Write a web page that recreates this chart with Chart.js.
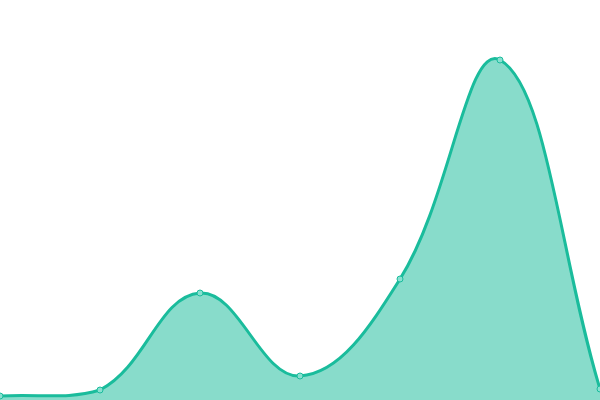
<!DOCTYPE html>
<html><head><meta charset="utf-8">
<script src="https://cdn.jsdelivr.net/npm/chart.js@4"></script>
<style>html,body{margin:0;padding:0;background:#fff}#wrap{width:600px;height:400px}</style>
</head><body><div id="wrap"><canvas id="c"></canvas></div>
<script>
const categories = ['1','2','3','4','5','6','7'];
const values = [4, 10, 107, 24, 121, 340, 11];
new Chart(document.getElementById('c'), {
  type: 'line',
  data: {
    labels: categories,
    datasets: [{
      data: values,
      fill: 'origin',
      borderColor: '#1abc9c',
      backgroundColor: 'rgba(26,188,156,0.52)',
      borderWidth: 3,
      tension: 0.4,
      pointRadius: 3,
      pointBackgroundColor: '#88e0d0',
      pointBorderColor: '#1abc9c',
      pointBorderWidth: 1
    }]
  },
  options: {
    responsive: true, maintainAspectRatio: false, animation: false,
    layout: { padding: 0, autoPadding: false },
    plugins: { legend: { display: false }, tooltip: { enabled: false } },
    scales: {
      x: { display: false },
      y: { display: false, min: 0, max: 400 }
    }
  }
});
</script></body></html>
